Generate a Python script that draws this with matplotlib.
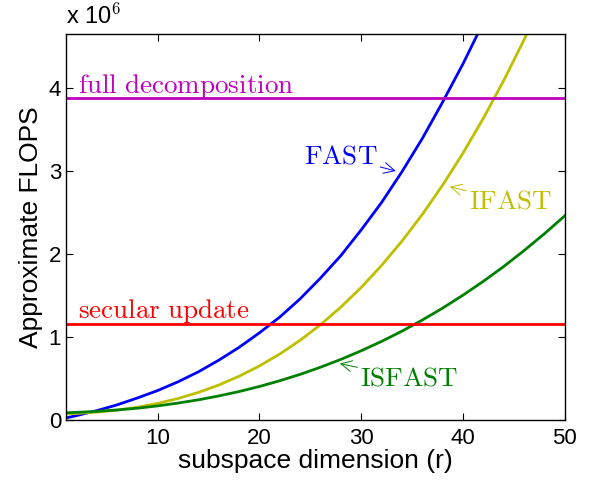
import numpy as np
import matplotlib
matplotlib.use("Agg")
import matplotlib.pyplot as plt
from matplotlib.ticker import FuncFormatter

plt.rcParams['font.family'] = ['Liberation Sans', 'DejaVu Sans']
plt.rcParams['mathtext.fontset'] = 'cm'

# subspace dimension r and approximate flop counts (in millions)
r = [1, 2, 4, 6, 8, 10, 12, 14, 16, 18, 20, 22, 24, 26, 28, 30, 32, 34, 36, 38, 40, 42, 44, 46, 48, 50]
fast = [0.025, 0.052, 0.112, 0.182, 0.265, 0.355, 0.46, 0.58, 0.72, 0.875, 1.05, 1.24, 1.46,
        1.71, 1.98, 2.29, 2.62, 2.99, 3.39, 3.83, 4.29, 4.79, 5.31, 5.85, 6.4, 7.0]
ifast = [0.074, 0.079, 0.095, 0.119, 0.154, 0.20, 0.259, 0.332, 0.421, 0.527, 0.651, 0.795, 0.96,
         1.148, 1.36, 1.597, 1.862, 2.154, 2.476, 2.829, 3.215, 3.635, 4.089, 4.581, 5.11, 5.67]
isfast = [0.088, 0.092, 0.104, 0.121, 0.142, 0.170, 0.204, 0.243, 0.290, 0.343, 0.404, 0.473, 0.550,
          0.636, 0.730, 0.834, 0.947, 1.070, 1.204, 1.348, 1.504, 1.671, 1.849, 2.041, 2.244, 2.46]
full_decomp = 3.88
secular = 1.157

scale = 1e6
fig = plt.figure(figsize=(5.92, 4.83), dpi=100)
ax = fig.add_axes([0.1115, 0.1304, 0.8425, 0.7992])

ax.plot(r, np.array(fast) * scale, color=(0, 0, 1), lw=2)
ax.plot(r, np.array(ifast) * scale, color=(0.75, 0.75, 0), lw=2)
ax.plot(r, np.array(isfast) * scale, color=(0, 0.5, 0), lw=2)
ax.axhline(full_decomp * scale, color=(0.75, 0, 0.75), lw=2)
ax.axhline(secular * scale, color=(1, 0, 0), lw=2)

ax.set_xlim(1, 50)
ax.set_ylim(0, 4.65e6)
ax.set_xticks([10, 20, 30, 40, 50])
ax.set_yticks([0, 1e6, 2e6, 3e6, 4e6])
ax.yaxis.set_major_formatter(FuncFormatter(lambda v, p: '%d' % round(v / scale)))
ax.tick_params(direction='in', top=True, right=True, labelsize=16, length=5, width=0.8)
ax.tick_params(axis='x', pad=6)
for s in ax.spines.values():
    s.set_linewidth(1.0)

ax.set_xlabel('subspace dimension (r)', fontsize=19, labelpad=0)
ax.set_ylabel('Approximate FLOPS', fontsize=19, labelpad=4)
ax.text(0.0, 1.012, r'x 10$^{\mathsf{6}}$', transform=ax.transAxes, fontsize=17,
        ha='left', va='bottom')

ax.text(2.2, 3.94e6, r'$\mathrm{full\ decomposition}$', color=(0.75, 0, 0.75), fontsize=19.5)
ax.text(2.2, 1.23e6, r'$\mathrm{secular\ update}$', color=(1, 0, 0), fontsize=19.5)

arrow = dict(arrowstyle='->', lw=0.7, shrinkA=0, shrinkB=0)
ax.annotate(r'$\mathrm{FAST}$', xy=(33.4, 3.0e6), xytext=(31.6, 3.17e6), color=(0, 0, 1),
            fontsize=19.5, ha='right', va='center', arrowprops=dict(arrow, color=(0, 0, 1)))
ax.annotate(r'$\mathrm{IFAST}$', xy=(38.7, 2.81e6), xytext=(40.6, 2.63e6), color=(0.75, 0.75, 0),
            fontsize=19.5, ha='left', va='center', arrowprops=dict(arrow, color=(0.75, 0.75, 0)))
ax.annotate(r'$\mathrm{ISFAST}$', xy=(27.9, 0.68e6), xytext=(29.9, 0.50e6), color=(0, 0.5, 0),
            fontsize=19.5, ha='left', va='center', arrowprops=dict(arrow, color=(0, 0.5, 0)))

fig.savefig('out.png', dpi=100)
